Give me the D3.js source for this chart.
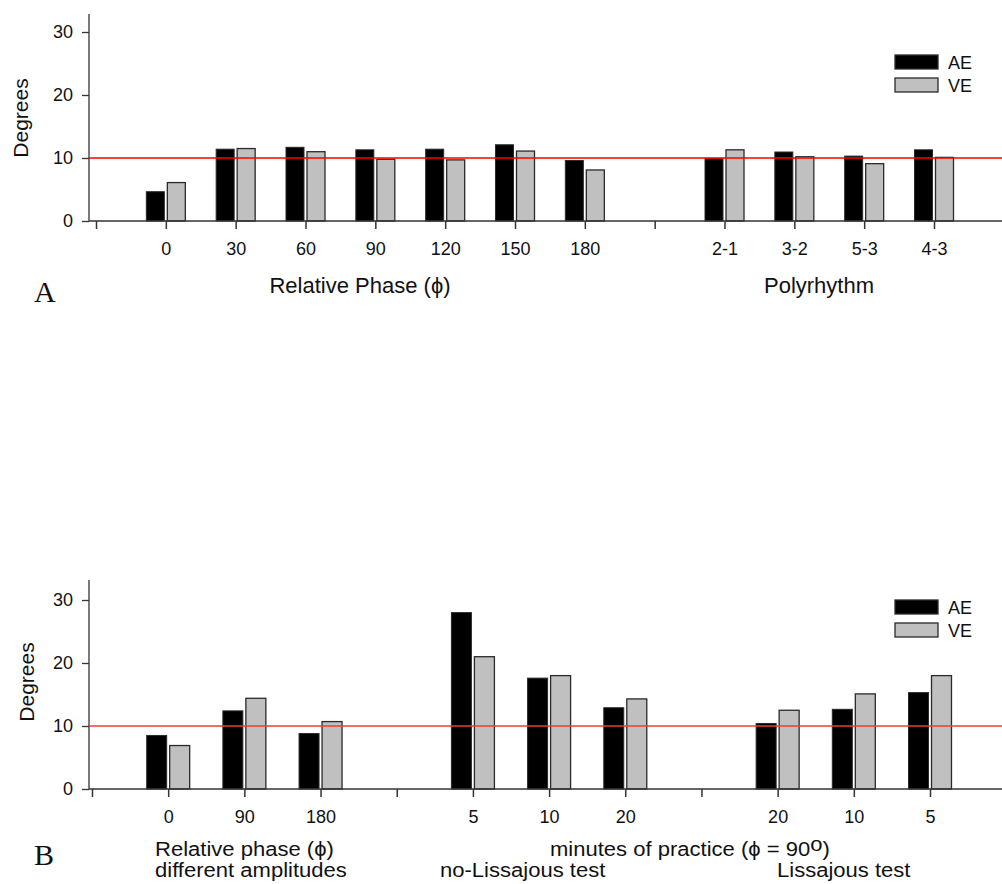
<!DOCTYPE html>
<html>
<head>
<meta charset="utf-8">
<script src="https://cdn.jsdelivr.net/npm/d3@7"></script>
<style>
  html, body { margin: 0; padding: 0; background: #fff; }
  svg { display: block; font-family: "Liberation Sans", Arial, sans-serif; }
</style>
</head>
<body>
<svg id="chart" width="1002" height="884"></svg>
<script>
// ---------- DATA ----------
// Panel A
const phaseCatsA = ["0", "30", "60", "90", "120", "150", "180"];
const polyCatsA  = ["2-1", "3-2", "5-3", "4-3"];
const aePhaseA   = [4.65, 11.4, 11.7, 11.3, 11.4, 12.1, 9.6];
const vePhaseA   = [6.1, 11.5, 11.0, 9.8, 9.7, 11.1, 8.1];
const aePolyA    = [9.9, 10.95, 10.3, 11.3];
const vePolyA    = [11.3, 10.2, 9.1, 10.1];

// Panel B
const ampCatsB   = ["0", "90", "180"];
const noLisCatsB = ["5", "10", "20"];
const lisCatsB   = ["20", "10", "5"];
const aeAmpB     = [8.5, 12.4, 8.8];
const veAmpB     = [6.9, 14.4, 10.7];
const aeNoLisB   = [28.0, 17.6, 12.9];
const veNoLisB   = [21.0, 18.0, 14.3];
const aeLisB     = [10.4, 12.65, 15.3];
const veLisB     = [12.5, 15.1, 18.0];

const yTicks     = [0, 10, 20, 30];
const refValue   = 10;
const seriesNames = ["AE", "VE"];

// ---------- HELPERS ----------
const svg = d3.select("#chart");
const AE_FILL = "#000000", VE_FILL = "#c0c0c0", BAR_STROKE = "#2a2a2a", AXIS = "#333";
const PHI = "\u03D5";

function buildGroups(groups) {
  const domain = [];
  const rows = [];
  groups.forEach((g, gi) => {
    domain.push("gap" + gi);
    g.cats.forEach((c, i) => {
      const key = gi + "|" + c;
      domain.push(key);
      rows.push({ key, label: c, ae: g.ae[i], ve: g.ve[i] });
    });
  });
  return { domain, rows };
}

function drawPanel(opt) {
  const g = svg.append("g");
  const { domain, rows } = buildGroups(opt.groups);
  const x = d3.scalePoint().domain(domain).range(opt.xRange);
  const y = d3.scaleLinear().domain([0, opt.yMax]).range([opt.y0, opt.yTop]);

  // Y axis
  const yAxis = g.append("g").attr("transform", `translate(${opt.xAxisStart},0)`)
    .call(d3.axisLeft(y).tickValues(yTicks).tickSize(7).tickPadding(9).tickSizeOuter(0));
  yAxis.select(".domain").attr("stroke", AXIS).attr("stroke-width", 1.3)
    .attr("d", `M0,${y(0)}V${opt.yTop}`);
  yAxis.selectAll(".tick line").attr("stroke", AXIS).attr("stroke-width", 1.3);
  yAxis.selectAll(".tick text").attr("font-size", 18).attr("fill", "#111")
    .style("font-family", "Liberation Sans, Arial, sans-serif");

  // Bars
  const bw = opt.barW;
  g.selectAll(".ae").data(rows).join("rect")
    .attr("x", d => x(d.key) - bw - opt.innerGap)
    .attr("width", bw)
    .attr("y", d => y(d.ae))
    .attr("height", d => y(0) - y(d.ae))
    .attr("fill", AE_FILL).attr("stroke", BAR_STROKE).attr("stroke-width", 1);
  g.selectAll(".ve").data(rows).join("rect")
    .attr("x", d => x(d.key) + opt.innerGap)
    .attr("width", bw)
    .attr("y", d => y(d.ve))
    .attr("height", d => y(0) - y(d.ve))
    .attr("fill", VE_FILL).attr("stroke", BAR_STROKE).attr("stroke-width", 1.3);

  // X axis
  const labelOf = {};
  rows.forEach(r => labelOf[r.key] = r.label);
  const xAxis = g.append("g").attr("transform", `translate(0,${y(0)})`)
    .call(d3.axisBottom(x).tickSize(8).tickPadding(13).tickSizeOuter(0)
      .tickFormat(k => labelOf[k] || ""));
  xAxis.select(".domain").attr("stroke", AXIS).attr("stroke-width", 1.6)
    .attr("d", `M${opt.xAxisStart},0H1002`);
  xAxis.selectAll(".tick line").attr("stroke", AXIS).attr("stroke-width", 1.5);
  xAxis.selectAll(".tick text").attr("font-size", 18).attr("fill", "#111")
    .style("font-family", "Liberation Sans, Arial, sans-serif");

  // Reference line
  g.append("line")
    .attr("x1", opt.xAxisStart).attr("x2", 1002)
    .attr("y1", y(refValue)).attr("y2", y(refValue))
    .attr("stroke", opt.refColor).attr("stroke-width", 1.6);

  // Y title
  g.append("text")
    .attr("transform", `translate(${opt.yTitleX},${opt.yTitleY}) rotate(-90)`)
    .attr("text-anchor", "middle").attr("font-size", 21).attr("fill", "#111")
    .text("Degrees");

  // Legend
  const leg = g.append("g");
  seriesNames.forEach((s, i) => {
    leg.append("rect")
      .attr("x", 895).attr("y", opt.legendY + i * 23)
      .attr("width", 43).attr("height", 14)
      .attr("fill", i === 0 ? AE_FILL : VE_FILL)
      .attr("stroke", BAR_STROKE).attr("stroke-width", 1.3);
    leg.append("text")
      .attr("x", 948).attr("y", opt.legendY + i * 23 + 14)
      .attr("font-size", 18).attr("fill", "#111").text(s);
  });

  // Panel letter
  g.append("text").attr("x", 34).attr("y", opt.letterY)
    .attr("font-family", "Liberation Serif, Times New Roman, serif")
    .attr("font-size", 30).attr("fill", "#111").text(opt.letter);

  return { g, x, y };
}

// ---------- PANEL A ----------
const pA = drawPanel({
  groups: [
    { cats: phaseCatsA, ae: aePhaseA, ve: vePhaseA },
    { cats: polyCatsA, ae: aePolyA, ve: vePolyA }
  ],
  xRange: [96, 934],
  xAxisStart: 89,
  y0: 221, yTop: 14, yMax: (221 - 14) / 6.3,
  barW: 18, innerGap: 1.5,
  refColor: "#ff0000",
  yTitleX: 28, yTitleY: 118,
  legendY: 55,
  letter: "A", letterY: 302
});
pA.g.append("text").attr("x", 360).attr("y", 293).attr("text-anchor", "middle")
  .attr("font-size", 22).attr("fill", "#111").text(`Relative Phase (${PHI})`);
pA.g.append("text").attr("x", 819).attr("y", 293).attr("text-anchor", "middle")
  .attr("font-size", 22).attr("fill", "#111").text("Polyrhythm");

// ---------- PANEL B ----------
const pB = drawPanel({
  groups: [
    { cats: ampCatsB, ae: aeAmpB, ve: veAmpB },
    { cats: noLisCatsB, ae: aeNoLisB, ve: veNoLisB },
    { cats: lisCatsB, ae: aeLisB, ve: veLisB }
  ],
  xRange: [92, 930],
  xAxisStart: 89,
  y0: 789, yTop: 580, yMax: (789 - 580) / 6.3,
  barW: 20, innerGap: 1.5,
  refColor: "#f23a3a",
  yTitleX: 34, yTitleY: 682,
  legendY: 600,
  letter: "B", letterY: 865
});
const tB = pB.g.append("g").attr("font-size", 19.5).attr("fill", "#111");
function wideText(x, y) {
  return tB.append("text").attr("transform", `translate(${x},${y}) scale(1.13,1)`);
}
wideText(155, 856).text(`Relative phase (${PHI})`);
wideText(155, 877).text("different amplitudes");
const mt = wideText(550, 856);
mt.append("tspan").text(`minutes of practice (${PHI} = 90`);
mt.append("tspan").attr("dy", -5).text("o");
mt.append("tspan").attr("dy", 5).text(")");
wideText(440, 877).text("no-Lissajous test");
wideText(777, 877).text("Lissajous test");
</script>
</body>
</html>
